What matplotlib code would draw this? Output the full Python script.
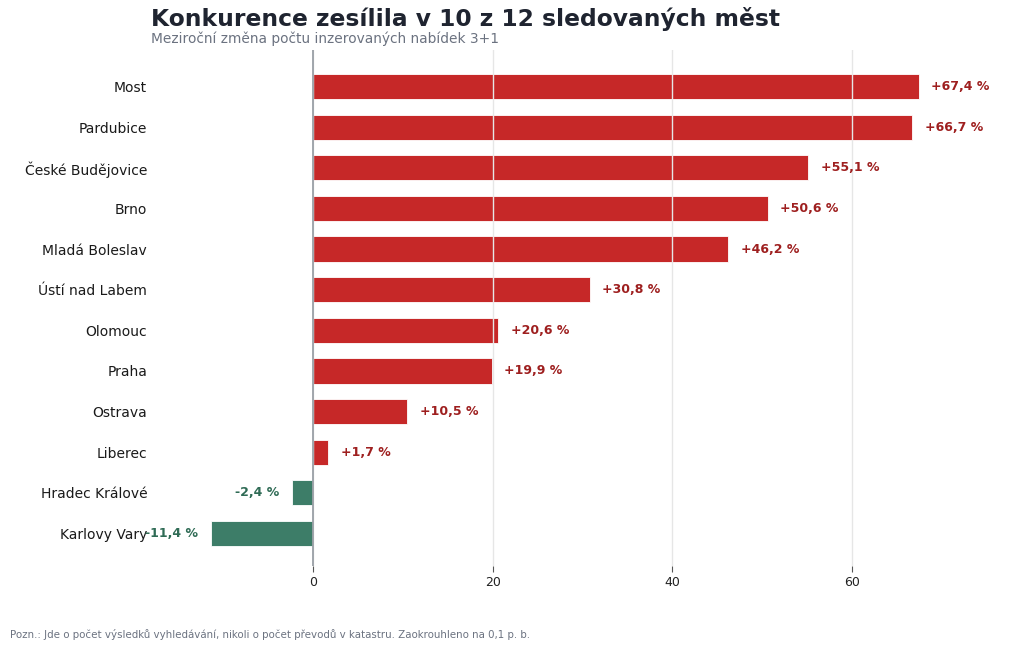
import matplotlib.pyplot as plt

cities = ["Most", "Pardubice", "České Budějovice", "Brno", "Mladá Boleslav",
          "Ústí nad Labem", "Olomouc", "Praha", "Ostrava", "Liberec",
          "Hradec Králové", "Karlovy Vary"]
changes = [67.4, 66.7, 55.1, 50.6, 46.2, 30.8, 20.6, 19.9, 10.5, 1.7, -2.4, -11.4]

RED = "#c62828"
GREEN = "#3d7d68"
RED_TXT = "#9e1f1f"
GREEN_TXT = "#2f6b55"

fig = plt.figure(figsize=(10.24, 6.49), dpi=100)
ax = fig.add_axes([0.1478, 0.128, 0.816, 0.795])

pos = list(range(len(cities)))
colors = [RED if v >= 0 else GREEN for v in changes]
ax.barh(pos, changes, height=0.62, color=colors, edgecolor="white", linewidth=0.6, zorder=2)

for y, v in zip(pos, changes):
    txt = f"{v:+.1f} %".replace(".", ",")
    if v >= 0:
        ax.text(v + 1.4, y, txt, va="center", ha="left", fontsize=9,
                fontweight="bold", color=RED_TXT, zorder=4)
    else:
        ax.text(v - 1.4, y, txt, va="center", ha="right", fontsize=9,
                fontweight="bold", color=GREEN_TXT, zorder=4)

ax.axvline(0, color="#9aa0a6", linewidth=1.3, zorder=3)
ax.set_xlim(-18, 75)
ax.set_ylim(11.8, -0.9)
ax.set_xticks([0, 20, 40, 60])
ax.set_yticks(pos)
ax.set_yticklabels(cities, fontsize=10, color="#1a1a1a")
ax.tick_params(axis="y", length=0, pad=3)
ax.tick_params(axis="x", length=4, color="#555555", labelsize=9, labelcolor="#222222")
ax.grid(axis="x", color="#e6e6e6", linewidth=1, zorder=2.5)
ax.set_axisbelow(False)
for s in ax.spines.values():
    s.set_visible(False)

fig.text(0.1475, 0.97, "Konkurence zesílila v 10 z 12 sledovaných měst",
         fontsize=16.8, fontweight="bold", color="#1f2430", va="center", ha="left")
fig.text(0.1475, 0.941, "Meziroční změna počtu inzerovaných nabídek 3+1",
         fontsize=9.9, color="#6b7280", va="center", ha="left")
fig.text(0.01, 0.022, "Pozn.: Jde o počet výsledků vyhledávání, nikoli o počet převodů v katastru. Zaokrouhleno na 0,1 p. b.",
         fontsize=7.4, color="#6b7280", va="center", ha="left")

fig.savefig("out.png", dpi=100, facecolor="white")
